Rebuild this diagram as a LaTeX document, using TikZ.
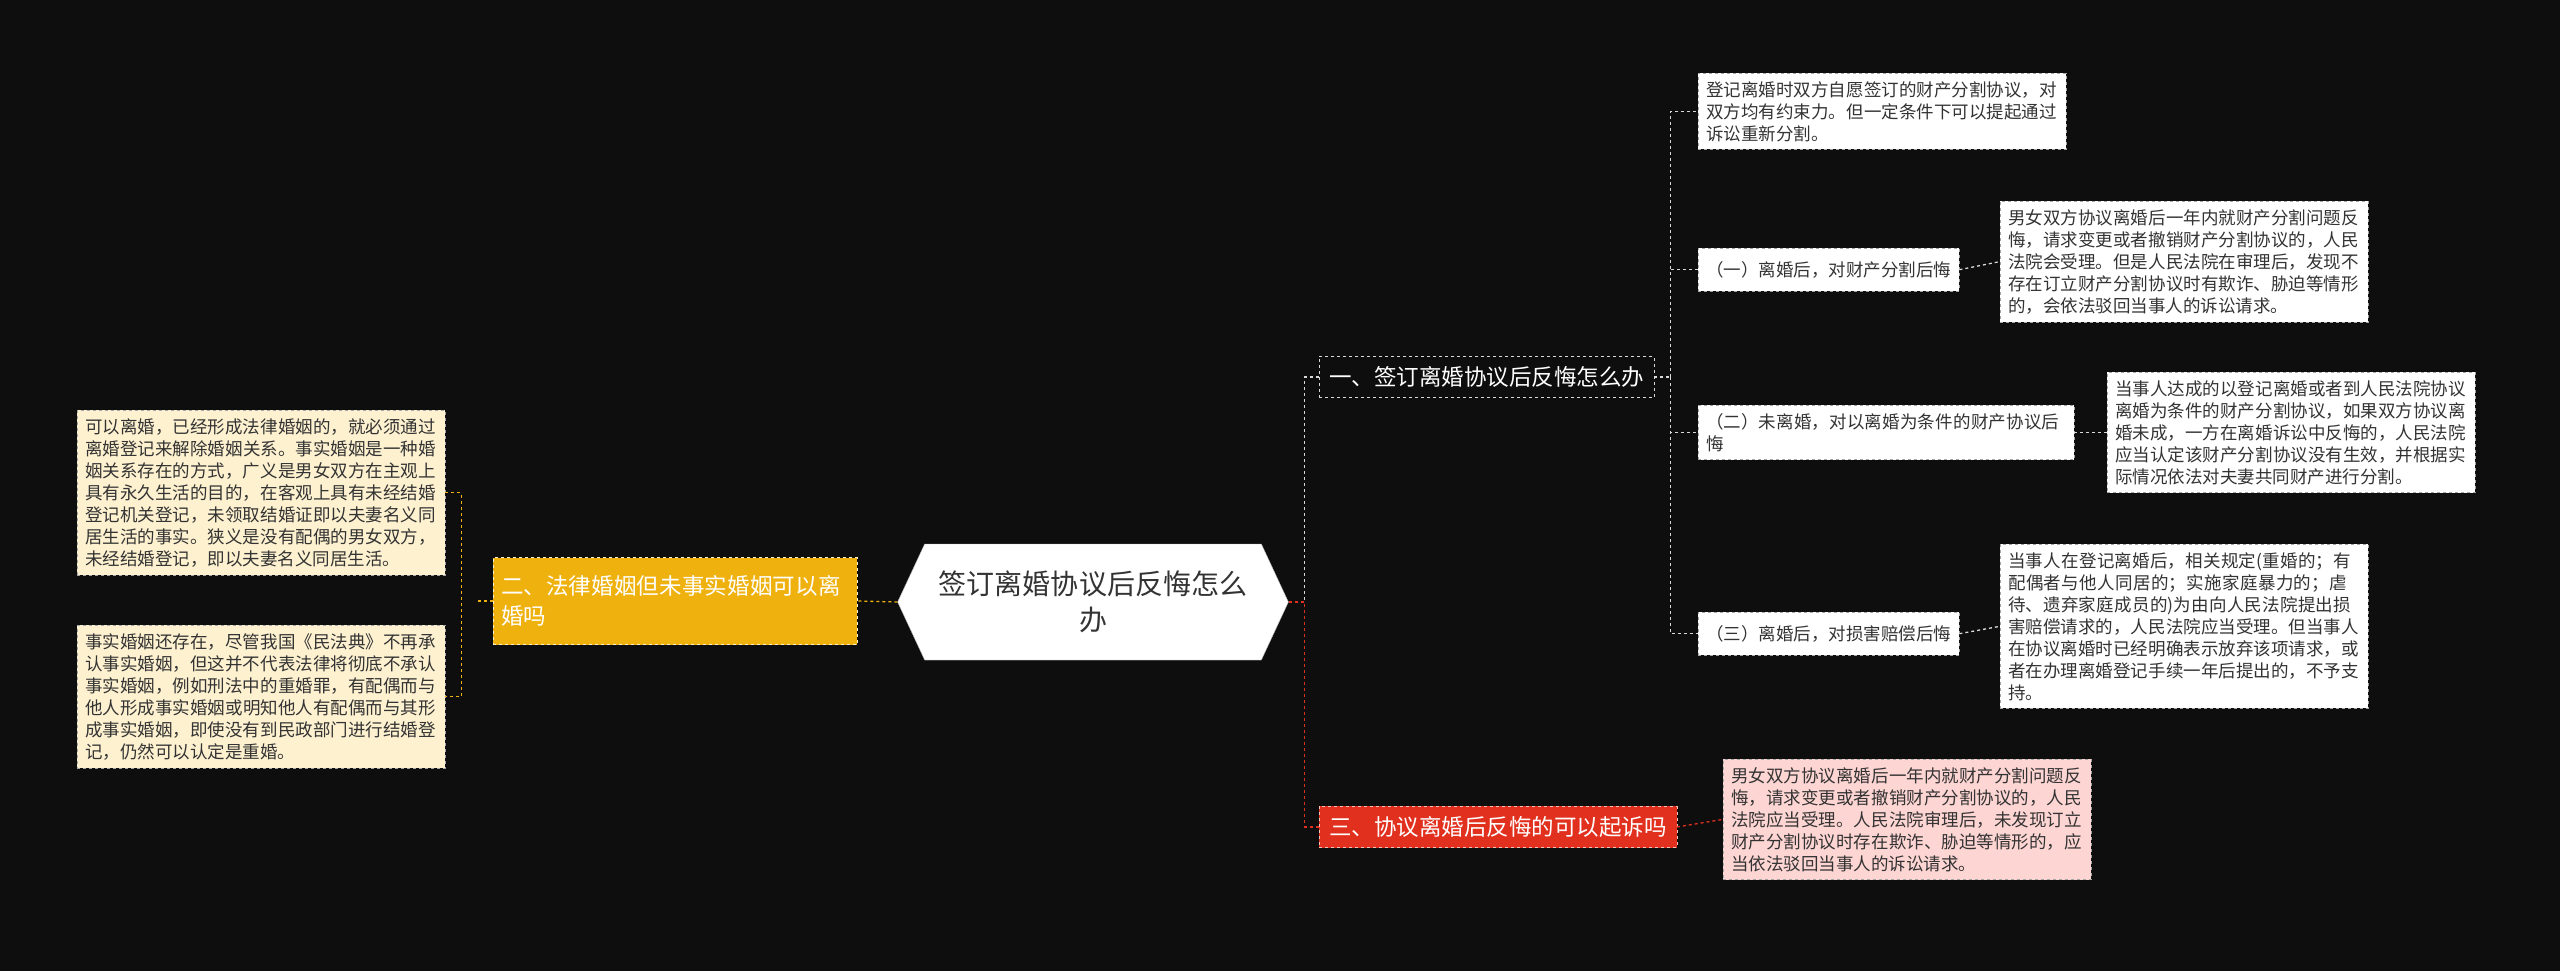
\documentclass[tikz,border=0pt]{standalone}
\usepackage{fontspec}
\setmainfont{Noto Sans CJK SC}
\XeTeXlinebreaklocale "zh"
\XeTeXlinebreakskip=0pt plus 1pt
\usetikzlibrary{shapes.symbols}
\definecolor{bg}{HTML}{0E0E0E}
\definecolor{yel}{HTML}{EFB10E}
\definecolor{cream}{HTML}{FDF1D0}
\definecolor{redb}{HTML}{E2301E}
\definecolor{pink}{HTML}{FDD5D3}
\definecolor{txt}{HTML}{333333}
\tikzset{
 leaf/.style={draw=gray!70,dashed,fill=white,text=txt,text width=352pt,align=left,inner sep=8pt,font=\fontsize{17.5}{22}\selectfont},
 sub/.style={draw=gray!70,dashed,fill=white,text=txt,align=left,inner sep=8pt,font=\fontsize{17.5}{22}\selectfont},
 wl/.style={draw=white!85!black,dashed,line width=1.3pt},
}
\begin{document}
\begin{tikzpicture}[x=1pt,y=-1pt]
\fill[bg] (0,0) rectangle (2560,971);
\useasboundingbox (0,0) rectangle (2560,971);
\node[signal,signal to=east and west,signal pointer angle=130,fill=white,draw=gray!60,text=txt,align=center,minimum width=387pt,minimum height=116pt,text width=330pt,font=\fontsize{28}{36}\selectfont] (c) at (1093,602) {签订离婚协议后反悔怎么\\办};
% left
\node[draw=white!80!yel,dashed,fill=yel,text=white,text width=348pt,minimum height=87pt,align=left,inner sep=8pt,font=\fontsize{22.5}{30}\selectfont] (L) at (675,601) {二、法律婚姻但未事实婚姻可以离婚吗};
\node[leaf,fill=cream,anchor=north west] (L1) at (77,410) {可以离婚，已经形成法律婚姻的，就必须通过离婚登记来解除婚姻关系。事实婚姻是一种婚姻关系存在的方式，广义是男女双方在主观上具有永久生活的目的，在客观上具有未经结婚登记机关登记，未领取结婚证即以夫妻名义同居生活的事实。狭义是没有配偶的男女双方，未经结婚登记，即以夫妻名义同居生活。};
\node[leaf,fill=cream,anchor=north west] (L2) at (77,625) {事实婚姻还存在，尽管我国《民法典》不再承认事实婚姻，但这并不代表法律将彻底不承认事实婚姻，例如刑法中的重婚罪，有配偶而与他人形成事实婚姻或明知他人有配偶而与其形成事实婚姻，即使没有到民政部门进行结婚登记，仍然可以认定是重婚。};
\draw[yel,dashed,line width=1.3pt] (c.west) -- (L.east);
\draw[yel,dashed,line width=1.3pt] (L.west) -- ++(-16,0) coordinate (lj);
\draw[yel,dashed,line width=1.3pt] (L1.east) -- ++(16,0) |- (L2.east);
% right
\node[draw=white!85!black,dashed,fill=bg,text=white,inner sep=10pt,font=\fontsize{22.5}{30}\selectfont,anchor=west] (R1) at (1319,377) {一、签订离婚协议后反悔怎么办};
\node[draw=white!70!redb,dashed,fill=redb,text=white,inner sep=10pt,font=\fontsize{22.5}{30}\selectfont,anchor=west] (R3) at (1319,827) {三、协议离婚后反悔的可以起诉吗};
\draw[wl] (c.east) -- ++(16,0) |- (R1.west);
\draw[redb,dashed,line width=1.3pt] (c.east) -- ++(16,0) |- (R3.west);
\node[leaf,fill=pink,anchor=north west] (R3a) at (1723,759) {男女双方协议离婚后一年内就财产分割问题反悔，请求变更或者撤销财产分割协议的，人民法院应当受理。人民法院审理后，未发现订立财产分割协议时存在欺诈、胁迫等情形的，应当依法驳回当事人的诉讼请求。};
\draw[redb,dashed,line width=1.3pt] (R3.east) -- (R3a.west);
\node[leaf,anchor=north west] (A) at (1698,73) {登记离婚时双方自愿签订的财产分割协议，对双方均有约束力。但一定条件下可以提起通过诉讼重新分割。};
\node[sub,anchor=north west,minimum height=43pt] (B1) at (1698,248) {（一）离婚后，对财产分割后悔};
\node[sub,anchor=north west,text width=360pt] (B2) at (1698,405) {（二）未离婚，对以离婚为条件的财产协议后悔};
\node[sub,anchor=north west,minimum height=43pt] (B3) at (1698,612) {（三）离婚后，对损害赔偿后悔};
\node[leaf,anchor=north west] (C1) at (2000,201) {男女双方协议离婚后一年内就财产分割问题反悔，请求变更或者撤销财产分割协议的，人民法院会受理。但是人民法院在审理后，发现不存在订立财产分割协议时有欺诈、胁迫等情形的，会依法驳回当事人的诉讼请求。};
\node[leaf,anchor=north west] (C2) at (2107,372) {当事人达成的以登记离婚或者到人民法院协议离婚为条件的财产分割协议，如果双方协议离婚未成，一方在离婚诉讼中反悔的，人民法院应当认定该财产分割协议没有生效，并根据实际情况依法对夫妻共同财产进行分割。};
\node[leaf,anchor=north west] (C3) at (2000,544) {当事人在登记离婚后，相关规定(重婚的；有配偶者与他人同居的；实施家庭暴力的；虐待、遗弃家庭成员的)为由向人民法院提出损害赔偿请求的，人民法院应当受理。但当事人在协议离婚时已经明确表示放弃该项请求，或者在办理离婚登记手续一年后提出的，不予支持。};
\draw[wl] (R1.east) -- ++(16,0) coordinate (rj);
\draw[wl] (rj) |- (A.west);
\draw[wl] (rj) |- (B1.west);
\draw[wl] (rj) |- (B2.west);
\draw[wl] (rj) |- (B3.west);
\draw[wl] (B1.east) -- (C1.west);
\draw[wl] (B2.east) -- (C2.west);
\draw[wl] (B3.east) -- (C3.west);
\end{tikzpicture}
\end{document}
